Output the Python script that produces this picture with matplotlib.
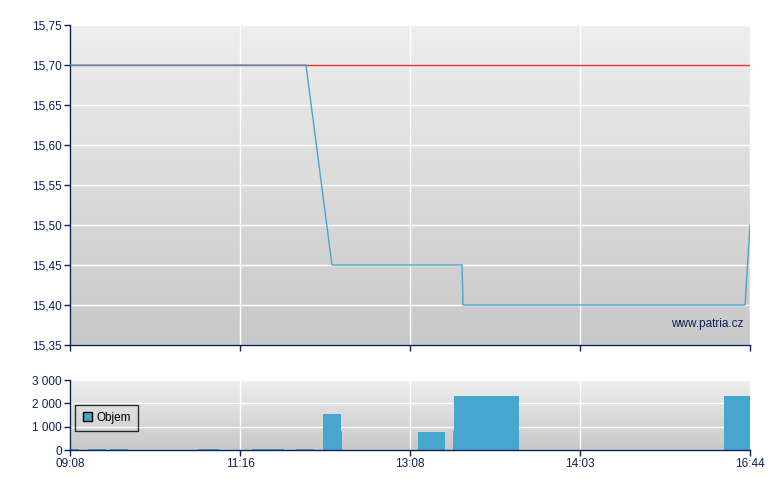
import numpy as np
from matplotlib import pyplot as plt

# x axis is compressed trading time: ticks are equally spaced
tick_pos = [0, 1, 2, 3, 4]
tick_labels = ['09:08', '11:16', '13:08', '14:03', '16:44']

# price line
price_x = [0.0, 1.388, 1.541, 2.306, 2.312, 3.971, 4.0]
price_y = [15.70, 15.70, 15.45, 15.45, 15.40, 15.40, 15.50]
ref_price = 15.70

# volume bars (left edge, width, volume)
vol_left = [0.0, 0.106, 0.235, 0.753, 1.071, 1.329, 1.488, 1.594, 2.047, 2.253, 2.259, 3.847]
vol_width = [0.053, 0.106, 0.106, 0.124, 0.188, 0.106, 0.106, 0.006, 0.159, 0.006, 0.382, 0.153]
vol_vals = [50, 50, 50, 50, 50, 50, 1550, 800, 780, 800, 2300, 2300]

NAVY = '#0c2157'
BAR = '#46a6ce'
LINE = '#4aa3cc'

plt.rcParams['font.family'] = ['Liberation Sans', 'DejaVu Sans']
plt.rcParams['font.size'] = 8

fig = plt.figure(figsize=(7.8, 4.9), dpi=100)
ax = fig.add_axes([70/780, 1-345/490, 680/780, 320/490])
axv = fig.add_axes([70/780, 1-450/490, 680/780, 70/490])

grad = np.linspace(0, 1, 256).reshape(-1, 1)
cmap = plt.matplotlib.colors.LinearSegmentedColormap.from_list('g', ['#eeeeee', '#c8c8c8'])
for a in (ax, axv):
    a.imshow(grad, extent=[0, 1, 0, 1], transform=a.transAxes, aspect='auto',
             cmap=cmap, zorder=0)
    a.set_xlim(0, 4)
    a.set_xticks(tick_pos)
    a.grid(True, color='white', linewidth=1)
    a.set_axisbelow(True)
    for s in ('top', 'right'):
        a.spines[s].set_visible(False)
    for s in ('left', 'bottom'):
        a.spines[s].set_color(NAVY)
        a.spines[s].set_linewidth(1)
    a.tick_params(colors=NAVY, labelcolor=NAVY, length=4, width=1, labelsize=8.5, pad=2)

# price panel
ax.axhline(ref_price, color='#e03030', linewidth=1, zorder=2)
ax.plot(price_x, price_y, color=LINE, linewidth=1, zorder=3)
ax.set_ylim(15.35, 15.75)
yt = np.arange(15.35, 15.751, 0.05)
ax.set_yticks(yt)
ax.set_yticklabels([f'{v:.2f}'.replace('.', ',') for v in yt])
ax.set_xticklabels([])
ax.text(0.99, 0.065, 'www.patria.cz', transform=ax.transAxes, ha='right', va='center',
        color=NAVY, fontsize=8.5)

# volume panel
axv.bar(vol_left, vol_vals, width=vol_width, align='edge', color=BAR, zorder=2, label='Objem')
axv.set_ylim(0, 3000)
axv.set_yticks([0, 1000, 2000, 3000])
axv.set_yticklabels(['0', '1 000', '2 000', '3 000'])
axv.set_xticklabels(tick_labels)
leg = axv.legend(loc='upper left', bbox_to_anchor=(0.008, 0.645), fancybox=False,
                 handlelength=0.8, handleheight=0.8, handletextpad=0.35, borderpad=0.6,
                 fontsize=8.5, borderaxespad=0)
leg.get_frame().set_facecolor('none')
leg.get_frame().set_edgecolor('black')
leg.get_frame().set_linewidth(1)
for h in leg.legend_handles:
    h.set_edgecolor('black')
    h.set_linewidth(1)

fig.savefig('out.png', dpi=100)
